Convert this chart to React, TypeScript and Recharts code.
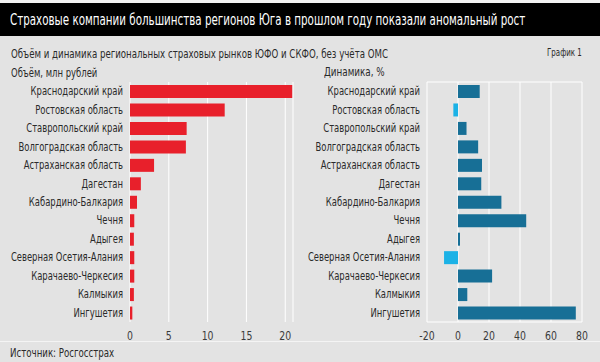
import { useLayoutEffect, useRef, useState } from 'react'
import { Bar, BarChart, CartesianGrid, Cell, XAxis, YAxis } from 'recharts'

const regions = [
  'Краснодарский край',
  'Ростовская область',
  'Ставропольский край',
  'Волгоградская область',
  'Астраханская область',
  'Дагестан',
  'Кабардино-Балкария',
  'Чечня',
  'Адыгея',
  'Северная Осетия-Алания',
  'Карачаево-Черкесия',
  'Калмыкия',
  'Ингушетия',
]

// объём, млн рублей
const volume = [20.9, 12.2, 7.3, 7.2, 3.1, 1.4, 0.9, 0.55, 0.5, 0.55, 0.55, 0.5, 0.3]
// динамика, %
const growth = [14, -3, 5.5, 13, 15.5, 15, 28, 44, 1.3, -9, 22, 6, 76]

const volumeTicks = [0, 5, 10, 15, 20]
const growthTicks = [-20, 0, 20, 40, 60, 80]

const data = regions.map((name, i) => ({ name, volume: volume[i], growth: growth[i] }))

const FONT = '"DejaVu Sans Condensed", "DejaVu Sans", sans-serif'
const BG = '#e3e3e3'
const TEXT = '#2a2a2a'
const RED = '#e8202b'
const TEAL = '#176f96'
const SKY = '#1cb2e6'

// the original uses a very narrow font, so text gets squeezed horizontally
const SQUEEZE = 0.78

function CatTick({ x, y, payload }: any) {
  return (
    <text
      transform={`translate(${x},${y}) scale(${SQUEEZE},1)`}
      dy={4}
      textAnchor="end"
      fontSize={12}
      fill={TEXT}
      style={{ fontFamily: FONT, fontStretch: 'condensed' }}
    >
      {payload.value}
    </text>
  )
}

function NumTick({ x, y, payload }: any) {
  return (
    <text
      transform={`translate(${x},${y}) scale(0.8,1)`}
      dy={10}
      textAnchor="middle"
      fontSize={13}
      fill="#3a3a3a"
      style={{ fontFamily: FONT, fontStretch: 'condensed' }}
    >
      {payload.value}
    </text>
  )
}

// squeeze a line of text so it spans the given width
function FitText({ text, left, top, width, size, color = TEXT }: any) {
  const ref = useRef<HTMLSpanElement>(null)
  const [scale, setScale] = useState(1)
  useLayoutEffect(() => {
    if (ref.current) setScale(width / ref.current.offsetWidth)
  }, [width, text])
  return (
    <span
      ref={ref}
      style={{
        position: 'absolute',
        left,
        top,
        fontSize: size,
        lineHeight: 1,
        whiteSpace: 'nowrap',
        color,
        transform: `scaleX(${scale})`,
        transformOrigin: 'left top',
      }}
    >
      {text}
    </span>
  )
}

export default function App() {
  return (
    <div
      style={{
        position: 'relative',
        width: 600,
        height: 362,
        background: BG,
        fontFamily: FONT,
        fontStretch: 'condensed',
        color: TEXT,
        overflow: 'hidden',
      }}
    >
      <style>{'body{margin:0}'}</style>
      <div style={{ position: 'absolute', left: 0, top: 0, width: 600, height: 3, background: '#f2f2f2' }} />
      <div
        style={{
          position: 'absolute',
          left: 0,
          top: 3,
          width: 600,
          height: 33,
          background: '#000',
        }}
      />
      <FitText
        text="Страховые компании большинства регионов Юга в прошлом году показали аномальный рост"
        left={10}
        top={12}
        width={515}
        size={16}
        color="#fff"
      />
      <FitText
        text="Объём и динамика региональных страховых рынков ЮФО и СКФО, без учёта ОМС"
        left={11}
        top={48}
        width={377}
        size={12}
      />
      <FitText text="График 1" left={547} top={47} width={35} size={11} />
      <FitText text="Объём, млн рублей" left={11} top={67} width={86} size={12} />
      <FitText text="Динамика, %" left={324} top={66} width={61} size={12} />

      <div style={{ position: 'absolute', left: 0, top: 0 }}>
        <BarChart
          width={300}
          height={362}
          data={data}
          layout="vertical"
          margin={{ top: 82, right: 7, bottom: 20, left: 0 }}
        >
          <CartesianGrid horizontal={false} stroke="#ffffff" strokeWidth={1} />
          <XAxis
            type="number"
            domain={[0, 21]}
            ticks={volumeTicks}
            axisLine={false}
            tickLine={false}
            tick={<NumTick />}
            height={20}
            interval={0}
          />
          <YAxis
            type="category"
            dataKey="name"
            width={130}
            axisLine={false}
            tickLine={false}
            tickSize={5}
            tickMargin={2}
            tick={<CatTick />}
            interval={0}
          />
          <Bar dataKey="volume" fill={RED} barSize={13} isAnimationActive={false} />
        </BarChart>
      </div>

      <div style={{ position: 'absolute', left: 300, top: 0 }}>
        <BarChart
          width={300}
          height={362}
          data={data}
          layout="vertical"
          margin={{ top: 82, right: 18, bottom: 20, left: 0 }}
        >
          <CartesianGrid
            stroke="#ffffff"
            strokeWidth={1}
            horizontalCoordinatesGenerator={({ offset }: any) => [offset.top, offset.top + offset.height]}
          />
          <XAxis
            type="number"
            domain={[-20, 80]}
            ticks={growthTicks}
            axisLine={false}
            tickLine={false}
            tick={<NumTick />}
            height={20}
            interval={0}
          />
          <YAxis
            type="category"
            dataKey="name"
            width={127}
            axisLine={false}
            tickLine={false}
            tickSize={5}
            tickMargin={2}
            tick={<CatTick />}
            interval={0}
          />
          <Bar dataKey="growth" barSize={13} isAnimationActive={false}>
            {data.map((d) => (
              <Cell key={d.name} fill={d.growth < 0 ? SKY : TEAL} />
            ))}
          </Bar>
        </BarChart>
      </div>

      <div
        style={{
          position: 'absolute',
          left: 0,
          top: 341,
          width: 600,
          height: 1,
          background: '#f4f4f4',
        }}
      />
      <FitText text="Источник: Росгосстрах" left={10} top={347} width={104} size={12} />
    </div>
  )
}
